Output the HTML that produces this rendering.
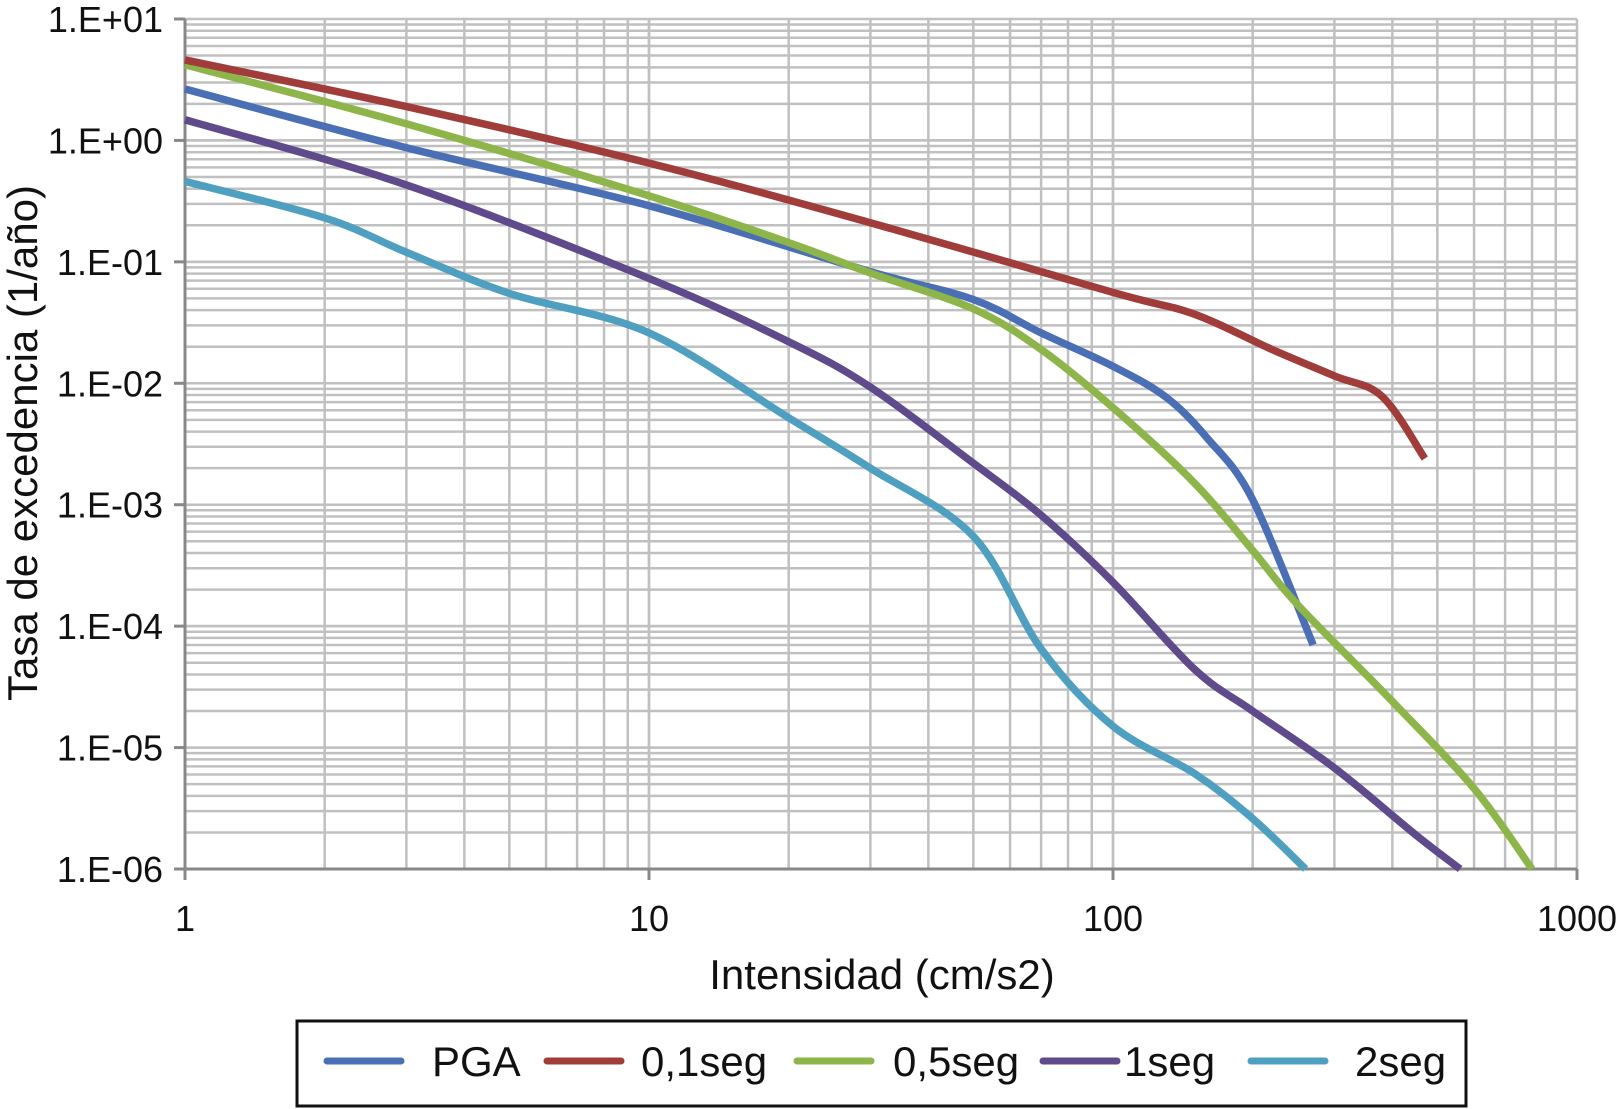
<!DOCTYPE html>
<html><head><meta charset="utf-8"><style>
html,body{margin:0;padding:0;background:#fff;}
svg{display:block;font-family:"Liberation Sans",sans-serif;}
</style></head><body>
<svg id="chart" width="1617" height="1109" viewBox="0 0 1617 1109">
<g id="grid"></g>
<g id="axes"></g>
<g id="series"></g>
<text x="882" y="989" font-size="42" text-anchor="middle" fill="#111">Intensidad (cm/s2)</text>
<text transform="translate(37,443) rotate(-90)" font-size="42" text-anchor="middle" fill="#111">Tasa de excedencia (1/año)</text>
<rect x="297" y="1021" width="1169" height="85" fill="#fff" stroke="#111" stroke-width="3"/>
<g id="legend"></g>
</svg>
<script>
const seriesNames = ["PGA","0,1seg","0,5seg","1seg","2seg"];
const seriesColors = ["#4a6fb5","#a03d3a","#8db54a","#5f4a8b","#4fa0c0"];
const pgaX = [1,3,10,30,50,70,100,130,160,200,270];
const pgaY = [2.65,0.87,0.29,0.083,0.049,0.026,0.0138,0.0077,0.0035,0.0011,7e-5];
const s01X = [1,3,10,30,100,150,220,300,380,470];
const s01Y = [4.6,1.9,0.65,0.21,0.056,0.037,0.019,0.0115,0.0078,0.0024];
const s05X = [1,3,10,20,30,50,70,100,150,200,250,400,600,800];
const s05Y = [4.2,1.37,0.35,0.144,0.081,0.041,0.019,0.0063,0.0015,4.2e-4,1.5e-4,2.4e-5,4.6e-6,1e-6];
const s1X = [1,3,10,20,30,50,70,100,150,200,300,450,560];
const s1Y = [1.48,0.43,0.073,0.022,0.0093,0.0022,8.2e-4,2.3e-4,4.4e-5,2e-5,6.8e-6,1.9e-6,1e-6];
const s2X = [1,2,3,5,10,20,30,50,70,100,150,200,260];
const s2Y = [0.46,0.23,0.12,0.055,0.026,0.0052,0.002,5.5e-4,6.5e-5,1.5e-5,6.1e-6,2.6e-6,1e-6];
const xTicks = ["1","10","100","1000"];
const yTicks = ["1.E+01","1.E+00","1.E-01","1.E-02","1.E-03","1.E-04","1.E-05","1.E-06"];

const X0=185, X1=1577, Y0=19, Y1=869;
const xs = v => X0 + (Math.log10(v)-0)/3*(X1-X0);
const ys = v => Y0 + (1-Math.log10(v))/7*(Y1-Y0);
const NS="http://www.w3.org/2000/svg";
function mk(tag, attrs, parent){const e=document.createElementNS(NS,tag);for(const k in attrs)e.setAttribute(k,attrs[k]);parent.appendChild(e);return e;}
const grid=document.getElementById('grid'), axes=document.getElementById('axes'), ser=document.getElementById('series'), leg=document.getElementById('legend');
for(let d=0;d<3;d++)for(let m=1;m<=10;m++){const v=Math.pow(10,d)*m;if(v<=1)continue;const l=mk('line',{x1:xs(v),x2:xs(v),y1:Y0,y2:Y1,stroke:'#c0c0c0','stroke-width':2.5},grid);

}
for(let d=-6;d<1;d++)for(let m=1;m<=10;m++){const v=Math.pow(10,d)*m;if(v<=1e-6)continue;const l=mk('line',{x1:X0,x2:X1,y1:ys(v),y2:ys(v),stroke:'#c0c0c0','stroke-width':2.5},grid);

}
mk('line',{x1:X0,x2:X0,y1:Y0,y2:Y1,stroke:'#888','stroke-width':3},axes);
mk('line',{x1:X0,x2:X1,y1:Y1,y2:Y1,stroke:'#888','stroke-width':3},axes);
xTicks.forEach(t=>{const x=xs(+t);mk('line',{x1:x,x2:x,y1:Y1,y2:Y1+11,stroke:'#888','stroke-width':3},axes);
const tx=mk('text',{x:x,y:Y1+62,'font-size':36,'text-anchor':'middle',fill:'#111'},axes);tx.textContent=t;

});
yTicks.forEach(t=>{const y=ys(+t);mk('line',{x1:X0-11,x2:X0,y1:y,y2:y,stroke:'#888','stroke-width':3},axes);
const tx=mk('text',{x:X0-22,y:y+13,'font-size':36,'text-anchor':'end',fill:'#111'},axes);tx.textContent=t;

});
function smooth(px,py){const P=px.map((v,i)=>[xs(v),ys(py[i])]);let d=`M${P[0][0]},${P[0][1]}`;
for(let i=0;i<P.length-1;i++){const p0=P[Math.max(i-1,0)],p1=P[i],p2=P[i+1],p3=P[Math.min(i+2,P.length-1)];
d+=` C${p1[0]+(p2[0]-p0[0])/6},${p1[1]+(p2[1]-p0[1])/6} ${p2[0]-(p3[0]-p1[0])/6},${p2[1]-(p3[1]-p1[1])/6} ${p2[0]},${p2[1]}`;}return d;}
const allX=[pgaX,s01X,s05X,s1X,s2X], allY=[pgaY,s01Y,s05Y,s1Y,s2Y];
const slug=["pga","0-1seg","0-5seg","1seg","2seg"];
[4,3,0,2,1].forEach(i=>{const p=mk('path',{d:smooth(allX[i],allY[i]),fill:'none',stroke:seriesColors[i],'stroke-width':7.5,'stroke-linejoin':'round'},ser);

});
const lineX=[324,544,794,1040,1248], textX=[432,641,893,1124,1355];
seriesNames.forEach((n,i)=>{const g=mk('g',{},leg);


mk('line',{x1:lineX[i]+3,x2:lineX[i]+77,y1:1061,y2:1061,stroke:seriesColors[i],'stroke-width':7,'stroke-linecap':'round'},g);
const t=mk('text',{x:textX[i],y:1076,'font-size':42,fill:'#111'},g);t.textContent=n;});
</script>
</body></html>
